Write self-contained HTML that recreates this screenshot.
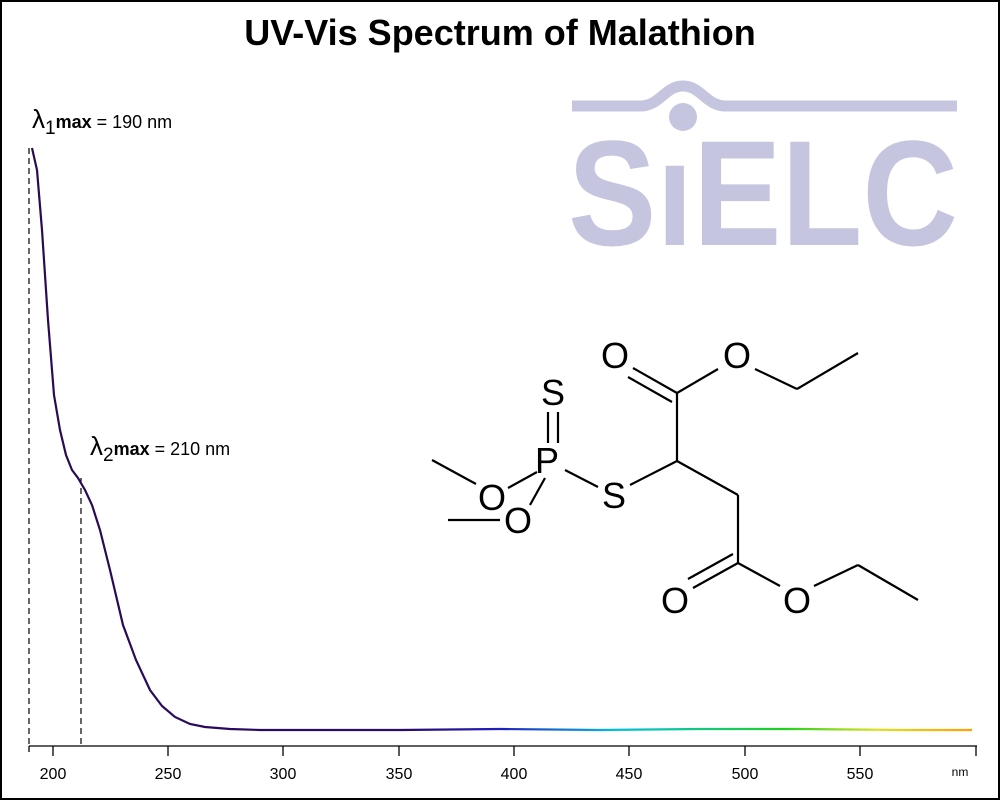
<!DOCTYPE html>
<html><head><style>
body{margin:0;background:#fff}
svg{display:block}
text{font-family:"Liberation Sans",Arial,sans-serif}
</style></head><body>
<svg width="1000" height="800" viewBox="0 0 1000 800">
<rect x="1" y="1" width="998" height="798" fill="#fff" stroke="#000" stroke-width="2"/>
<text x="500" y="45" text-anchor="middle" font-size="36" font-weight="bold">UV-Vis Spectrum of Malathion</text>
<g fill="#c5c5e0" stroke="#c5c5e0">
<path d="M572,106 L640,106 C660,106 665,86 683,86 C701,86 706,106 726,106 L957,106" fill="none" stroke-width="11"/>
<circle cx="683" cy="117" r="14" stroke="none"/>
<text x="568" y="245" font-size="150" font-weight="bold" stroke="none" textLength="390" lengthAdjust="spacingAndGlyphs">SıELC</text>
</g>
<g stroke="#000" stroke-width="1.3">
<line x1="29" y1="746" x2="977" y2="746"/>
<line x1="29" y1="746" x2="29" y2="752"/>
<line x1="53" y1="746" x2="53" y2="756"/>
<line x1="168" y1="746" x2="168" y2="756"/>
<line x1="283" y1="746" x2="283" y2="756"/>
<line x1="399" y1="746" x2="399" y2="756"/>
<line x1="514" y1="746" x2="514" y2="756"/>
<line x1="629" y1="746" x2="629" y2="756"/>
<line x1="745" y1="746" x2="745" y2="756"/>
<line x1="860" y1="746" x2="860" y2="756"/>
<line x1="976" y1="746" x2="976" y2="756"/>
</g>
<g font-size="16" text-anchor="middle">
<text x="53" y="779">200</text><text x="168" y="779">250</text><text x="283" y="779">300</text><text x="399" y="779">350</text><text x="514" y="779">400</text><text x="629" y="779">450</text><text x="745" y="779">500</text><text x="860" y="779">550</text>
<text x="960" y="776" font-size="12">nm</text>
</g>
<g stroke="#000" stroke-dasharray="6,4" stroke-width="1.2">
<line x1="29" y1="148" x2="29" y2="746"/>
<line x1="81" y1="478" x2="81" y2="746"/>
</g>
<text x="32" y="128" font-size="26">λ<tspan font-size="19" dy="6">1</tspan><tspan font-size="18" font-weight="bold" dy="-6">max</tspan><tspan font-size="18"> = 190 nm</tspan></text>
<text x="90" y="455" font-size="26">λ<tspan font-size="19" dy="6">2</tspan><tspan font-size="18" font-weight="bold" dy="-6">max</tspan><tspan font-size="18"> = 210 nm</tspan></text>
<defs><linearGradient id="g" x1="0" x2="1"><stop offset="0" stop-color="#2a0a50"/><stop offset="0.4" stop-color="#2a0a70"/><stop offset="0.5" stop-color="#2020c0"/><stop offset="0.62" stop-color="#00c0e0"/><stop offset="0.8" stop-color="#20d020"/><stop offset="0.9" stop-color="#e0e020"/><stop offset="1" stop-color="#ffa000"/></linearGradient></defs>
<path d="M32,148 L37,170 L42,230 L48,320 L54,395 L60,430 L66,455 L72,470 L78,478 L85,490 L92,505 L100,530 L110,570 L123,625 L136,660 L150,690 L162,706 L175,717 L190,724 L205,727 L230,729 L260,730 L300,730 L400,730 L500,729 L600,730 L700,729 L800,729 L900,730 L972,730" fill="none" stroke="url(#g)" stroke-width="2.2"/>
<g stroke="#000" stroke-width="2.2" fill="none">
<line x1="548" y1="412" x2="548" y2="443"/><line x1="558" y1="412" x2="558" y2="443"/>
<line x1="537" y1="472" x2="508" y2="488"/>
<line x1="545" y1="478" x2="530" y2="505"/>
<line x1="565" y1="470" x2="598" y2="487"/>
<line x1="476" y1="484" x2="432" y2="460"/>
<line x1="500" y1="520" x2="448" y2="520"/>
<line x1="630" y1="485" x2="677" y2="461"/>
<line x1="677" y1="461" x2="677" y2="393"/>
<line x1="677" y1="393" x2="633" y2="368"/><line x1="672" y1="402" x2="628" y2="377"/>
<line x1="677" y1="393" x2="718" y2="369"/>
<line x1="755" y1="369" x2="797" y2="389"/><line x1="797" y1="389" x2="858" y2="353"/>
<line x1="677" y1="461" x2="738" y2="495"/><line x1="738" y1="495" x2="738" y2="563"/>
<line x1="738" y1="563" x2="693" y2="588"/><line x1="733" y1="554" x2="688" y2="579"/>
<line x1="738" y1="563" x2="780" y2="586"/>
<line x1="814" y1="586" x2="858" y2="565"/><line x1="858" y1="565" x2="918" y2="600"/>
</g>
<g font-size="36" text-anchor="middle">
<text x="553" y="405">S</text><text x="547" y="473">P</text><text x="492" y="510">O</text><text x="518" y="533">O</text><text x="614" y="508">S</text>
<text x="615" y="368">O</text><text x="737" y="368">O</text><text x="675" y="613">O</text><text x="797" y="613">O</text>
</g>
</svg>
</body></html>
